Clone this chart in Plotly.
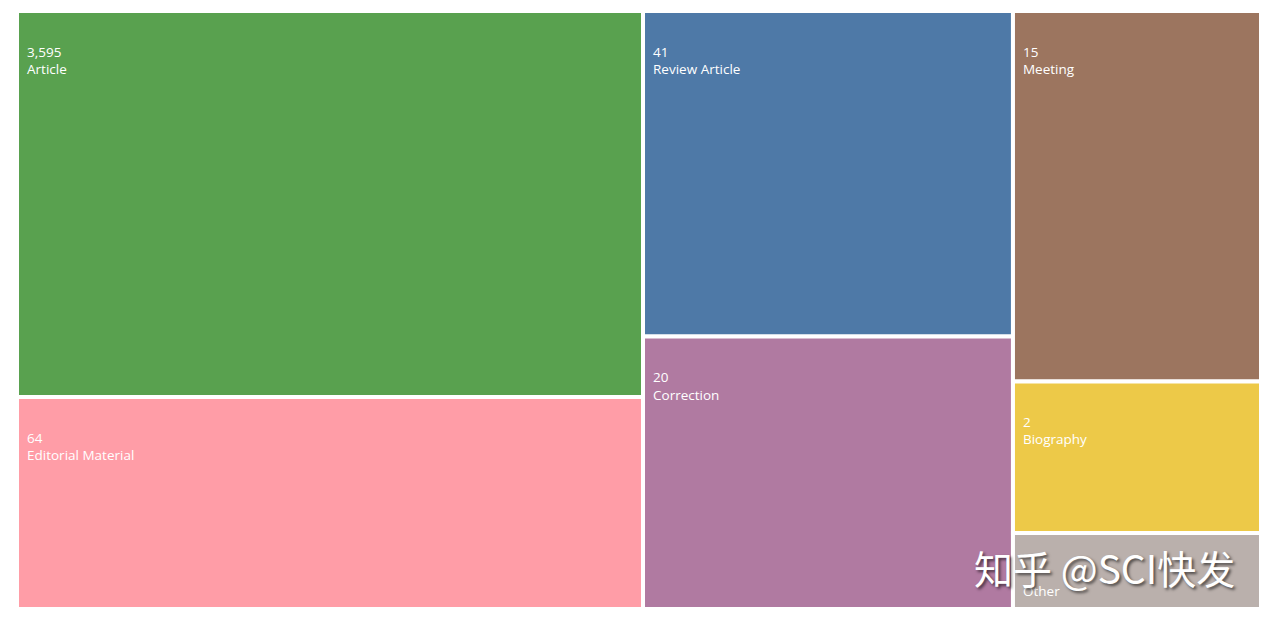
import plotly.graph_objects as go

# Document types and record counts (as labelled)
categories = ["Article", "Editorial Material", "Review Article", "Correction",
              "Meeting", "Biography", "Other"]
counts = ["3,595", "64", "41", "20", "15", "2", "&nbsp;"]
# relative tile sizes as drawn in the reference (not proportional to counts)
tile_sizes = [241600, 132700, 120400, 100800, 92600, 37900, 19000]
groups = ["g1", "g1", "g2", "g2", "g3", "g3", "g3"]
colors = ["#59A14F", "#FF9DA7", "#4E79A7", "#B07AA1", "#9C755F", "#EDC948", "#BAB0AC"]

ids = ["root", "g1", "g2", "g3"] + categories
parents = ["", "root", "root", "root"] + groups
labels = ["", "", "", ""] + categories
values = [0, 0, 0, 0] + tile_sizes
texts = ["", "", "", ""] + counts
node_colors = ["#ffffff"] * 4 + colors
lead = "<span style='font-size:23px'>&nbsp;</span><br>"
templates = [""] * 4 + [lead + "&nbsp;&nbsp;%{text}<br>&nbsp;&nbsp;%{label}"] * len(categories)

fig = go.Figure(go.Treemap(
    ids=ids, parents=parents, labels=labels, values=values, text=texts,
    branchvalues="remainder", sort=False,
    texttemplate=templates, textposition="top left",
    textfont=dict(family="Open Sans, sans-serif", size=13.5, color="white"),
    marker=dict(colors=node_colors, line=dict(color="white", width=4),
                pad=dict(t=0, l=0, r=0, b=0)),
    tiling=dict(packing="slice-dice", pad=0),
    pathbar=dict(visible=False),
    hoverinfo="label+text",
))

fig.update_layout(
    width=1255, height=604,
    margin=dict(l=9, r=0, t=3, b=3),
    paper_bgcolor="white",
    annotations=[dict(
        text="知乎 @SCI快发", x=0.873, y=0.070, xref="paper", yref="paper",
        xanchor="center", yanchor="middle",
        showarrow=False,
        font=dict(family="Noto Sans CJK SC", size=39, color="white",
                  shadow="2px 2px 3px rgba(0,0,0,0.6)"),
    )],
)

fig.write_html("out.html")
